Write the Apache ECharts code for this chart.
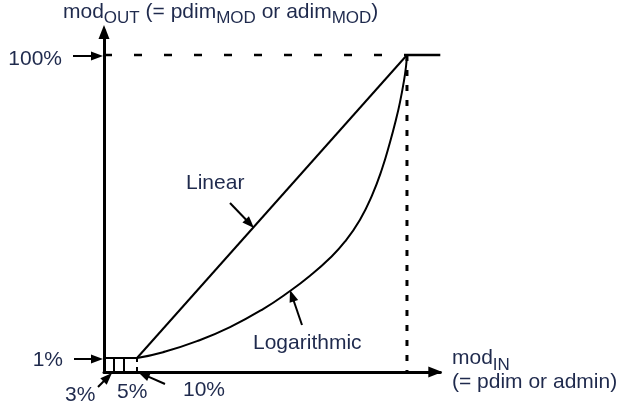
<!DOCTYPE html>
<html><head><meta charset="utf-8">
<script src="https://cdn.jsdelivr.net/npm/echarts@6/dist/echarts.min.js"></script>
<style>html,body{margin:0;padding:0;background:#fff}#c{width:634px;height:408px}</style>
</head><body><div id="c"></div>
<script>
// ---- data (x = mod_IN in %, y = mod_OUT in %) ----
const linearX = [10.9, 100];
const linearY = [1, 100];
const logX = [10.9, 19.5, 30.7, 41.6, 52.5, 61.4, 68.0, 74.6, 79.5, 84.5, 88.4, 91.7, 94.4, 96.4, 97.7, 99.0, 99.7, 100];
const logY = [1, 2.9, 6.5, 11.1, 17.0, 22.9, 27.9, 33.7, 39.0, 46.2, 54.0, 62.6, 71.5, 79.0, 84.6, 91.5, 96.4, 100];
const saturationX = [100, 111];
const saturationY = [100, 100];
const smallTickX = [3.3, 6.6];      // marks labelled 3% and 5%
const tenPctX = 10.9;               // mark labelled 10%
const minOut = 1;                   // 1% output level
const maxOut = 100;                 // 100% output level
const xTickLabels = ['3%', '5%', '10%'];
const yTickLabels = ['1%', '100%'];
const seriesNames = ['Linear', 'Logarithmic'];

const X_MIN = 0, X_MAX = 111, Y_MIN = -3.6, Y_MAX = 108;

const FONT = '"Liberation Sans", Arial, Helvetica, sans-serif';
const TXT = '#1f2a4d';
const MAIN = 21, SUB = 17;

const zip = (xs, ys) => xs.map((x, i) => [x, ys[i]]);
const lineSeries = (data, opts) => Object.assign({
  type: 'line', data, symbol: 'none', silent: true, animation: false,
  lineStyle: { color: '#000', width: 2 }
}, opts || {});

const series = [
  lineSeries(zip(linearX, linearY), { name: seriesNames[0] }),
  lineSeries(zip(logX, logY), { name: seriesNames[1], smooth: 0.5 }),
  lineSeries(zip(saturationX, saturationY), { lineStyle: { color: '#000', width: 2.5 } }),
  // dashed 100% reference
  lineSeries([[X_MIN, maxOut], [linearX[1], maxOut]], { lineStyle: { color: '#000', width: 2.5, type: [8, 22] } }),
  // dashed vertical at 100% input
  lineSeries([[linearX[1], maxOut], [linearX[1], Y_MIN]], { lineStyle: { color: '#000', width: 3, type: [6, 9] } }),
  // 1% floor
  lineSeries([[X_MIN, minOut], [tenPctX, minOut]], { lineStyle: { color: '#000', width: 2 } }),
  // small marks
  lineSeries([[smallTickX[0], Y_MIN], [smallTickX[0], minOut]], { lineStyle: { color: '#000', width: 2 } }),
  lineSeries([[smallTickX[1], Y_MIN], [smallTickX[1], minOut]], { lineStyle: { color: '#000', width: 2 } }),
  lineSeries([[tenPctX, minOut], [tenPctX, Y_MIN]], { lineStyle: { color: '#000', width: 2, type: [4, 5] } })
];

// ---- annotation helpers ----
const cv = document.createElement('canvas').getContext('2d');
function measure(t, size) { cv.font = size + 'px ' + FONT; return cv.measureText(t).width; }
function txt(t, x, y, size, align) {
  return { type: 'text', x, y, silent: true,
    style: { text: t, fill: TXT, font: size + 'px ' + FONT, align: align || 'left', verticalAlign: 'middle' } };
}
function subText(segs, x, yMain, ySub) {
  const out = [];
  let cx = x;
  segs.forEach(([t, sub]) => {
    const s = sub ? SUB : MAIN;
    out.push(txt(t, cx, sub ? ySub : yMain, s));
    cx += measure(t, s);
  });
  return out;
}
function arrow(x1, y1, x2, y2) {
  const dx = x2 - x1, dy = y2 - y1, L = Math.hypot(dx, dy), ux = dx / L, uy = dy / L;
  const hl = 12, hw = 4.5;
  const bx = x2 - ux * hl, by = y2 - uy * hl;
  return [
    { type: 'line', silent: true, shape: { x1, y1, x2: bx + ux * 2, y2: by + uy * 2 }, style: { stroke: '#000', lineWidth: 2 } },
    { type: 'polygon', silent: true, shape: { points: [[x2, y2], [bx - uy * hw, by + ux * hw], [bx + uy * hw, by - ux * hw]] }, style: { fill: '#000' } }
  ];
}

const graphics = [].concat(
  subText([['mod', 0], ['OUT', 1], [' (= pdim', 0], ['MOD', 1], [' or adim', 0], ['MOD', 1], [')', 0]], 63, 12, 18.5),
  subText([['mod', 0], ['IN', 1]], 452, 358.5, 365.5),
  [txt('(= pdim or admin)', 452, 382, MAIN)],
  [txt(yTickLabels[1], 62, 59, MAIN, 'right'), txt(yTickLabels[0], 63, 360, MAIN, 'right')],
  [txt(xTickLabels[0], 65, 395, MAIN), txt(xTickLabels[1], 117, 392.5, MAIN), txt(xTickLabels[2], 183, 390.5, MAIN)],
  [txt(seriesNames[0], 186, 183, MAIN), txt(seriesNames[1], 253, 343, MAIN)],
  arrow(73, 56, 103, 56),
  arrow(74, 359, 103, 359),
  arrow(98, 387, 112, 373),
  arrow(165, 384, 138, 372),
  arrow(230, 203, 254, 228),
  arrow(302, 325, 290, 290)
);

const chart = echarts.init(document.getElementById('c'), null, { renderer: 'canvas' });
chart.setOption({
  animation: false,
  grid: { left: 104, right: 193.7, top: 30.5, bottom: 35.9, containLabel: false },
  xAxis: {
    type: 'value', min: X_MIN, max: X_MAX,
    axisLine: { onZero: false, lineStyle: { color: '#000', width: 3 }, symbol: ['none', 'triangle'], symbolSize: [11, 14], symbolOffset: [0, -5] },
    axisTick: { show: false }, axisLabel: { show: false }, splitLine: { show: false }
  },
  yAxis: {
    type: 'value', min: Y_MIN, max: Y_MAX,
    axisLine: { onZero: false, lineStyle: { color: '#000', width: 3 }, symbol: ['none', 'triangle'], symbolSize: [11, 14], symbolOffset: [0, -1.5] },
    axisTick: { show: false }, axisLabel: { show: false }, splitLine: { show: false }
  },
  series,
  graphic: graphics
});
</script>
</body></html>
